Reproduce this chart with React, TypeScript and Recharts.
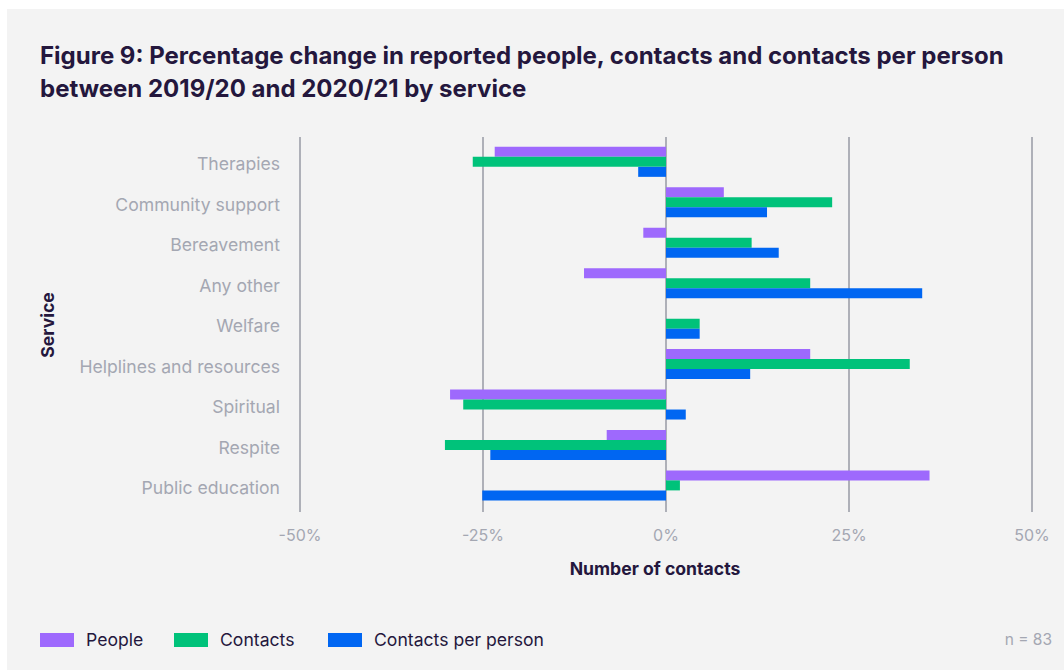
import { BarChart, Bar, XAxis, YAxis, CartesianGrid } from "recharts";

const services = [
  "Therapies",
  "Community support",
  "Bereavement",
  "Any other",
  "Welfare",
  "Helplines and resources",
  "Spiritual",
  "Respite",
  "Public education",
];
const people = [-23.4, 7.9, -3.1, -11.2, 0, 19.7, -29.5, -8.1, 36.0];
const contacts = [-26.4, 22.7, 11.7, 19.7, 4.6, 33.3, -27.7, -30.2, 1.9];
const contactsPerPerson = [-3.8, 13.8, 15.4, 35.0, 4.6, 11.5, 2.7, -24.0, -25.1];
const xTicks = [-50, -25, 0, 25, 50];

const data = services.map((service, i) => ({
  service,
  people: people[i],
  contacts: contacts[i],
  contactsPerPerson: contactsPerPerson[i],
}));

const PURPLE = "#9e69fd";
const GREEN = "#00c27a";
const BLUE = "#0066f2";
const INK = "#24173d";
const MUTED = "#a4a7b2";
const FONT = "Inter, 'Open Sans', sans-serif";

const legend = [
  { label: "People", color: PURPLE, x: 40 },
  { label: "Contacts", color: GREEN, x: 174 },
  { label: "Contacts per person", color: BLUE, x: 328 },
];

export default function App() {
  return (
    <div style={{ position: "absolute", left: 0, top: 0, width: 1064, height: 670, background: "#fff", fontFamily: FONT }}>
      <div style={{ position: "absolute", left: 7, top: 9, width: 1057, height: 661, background: "#f3f3f3" }} />
      <div
        style={{
          position: "absolute",
          left: 40,
          top: 39,
          width: 1020,
          fontSize: 24,
          fontWeight: 700,
          lineHeight: "33px",
          color: INK,
          whiteSpace: "nowrap",
        }}
      >
        Figure 9: Percentage change in reported people, contacts and contacts per person
        <br />
        between 2019/20 and 2020/21 by service
      </div>

      <div style={{ position: "absolute", left: 0, top: 0 }}>
        <BarChart
          width={1064}
          height={600}
          data={data}
          layout="vertical"
          margin={{ top: 137, right: 32, bottom: 0, left: 20 }}
          barCategoryGap="12%"
          barGap={0}
        >
          <CartesianGrid horizontal={false} stroke="#aeb0b8" strokeWidth={2} />
          <XAxis
            type="number"
            domain={[-50, 50]}
            ticks={xTicks}
            tickFormatter={(v) => `${v}%`}
            axisLine={false}
            tickLine={false}
            tickSize={0}
            tickMargin={18}
            tick={{ fill: MUTED, fontSize: 16, fontFamily: FONT }}
            height={88}
          />
          <YAxis
            type="category"
            dataKey="service"
            width={280}
            axisLine={false}
            tickLine={false}
            tickSize={0}
            tickMargin={20}
            padding={{ top: 5, bottom: 6 }}
            tick={{ fill: MUTED, fontSize: 17.6, fontFamily: FONT, dy: 2 }}
          />
          <Bar dataKey="people" fill={PURPLE} isAnimationActive={false} />
          <Bar dataKey="contacts" fill={GREEN} isAnimationActive={false} />
          <Bar dataKey="contactsPerPerson" fill={BLUE} isAnimationActive={false} />
        </BarChart>
      </div>

      <div
        style={{
          position: "absolute",
          left: 554,
          top: 558,
          width: 202,
          textAlign: "center",
          fontSize: 17.6,
          fontWeight: 700,
          color: INK,
        }}
      >
        Number of contacts
      </div>
      <div
        style={{
          position: "absolute",
          left: 47,
          top: 325,
          transform: "translate(-50%, -50%) rotate(-90deg)",
          fontSize: 17.6,
          fontWeight: 700,
          color: INK,
          whiteSpace: "nowrap",
        }}
      >
        Service
      </div>

      {legend.map((item) => (
        <div
          key={item.label}
          style={{ position: "absolute", left: item.x, top: 629, display: "flex", alignItems: "center", fontSize: 17.6, color: INK }}
        >
          <div style={{ width: 34, height: 14, background: item.color, marginRight: 12 }} />
          <span>{item.label}</span>
        </div>
      ))}
      <div style={{ position: "absolute", right: 12, top: 630, fontSize: 15.5, color: MUTED }}>n = 83</div>
    </div>
  );
}
